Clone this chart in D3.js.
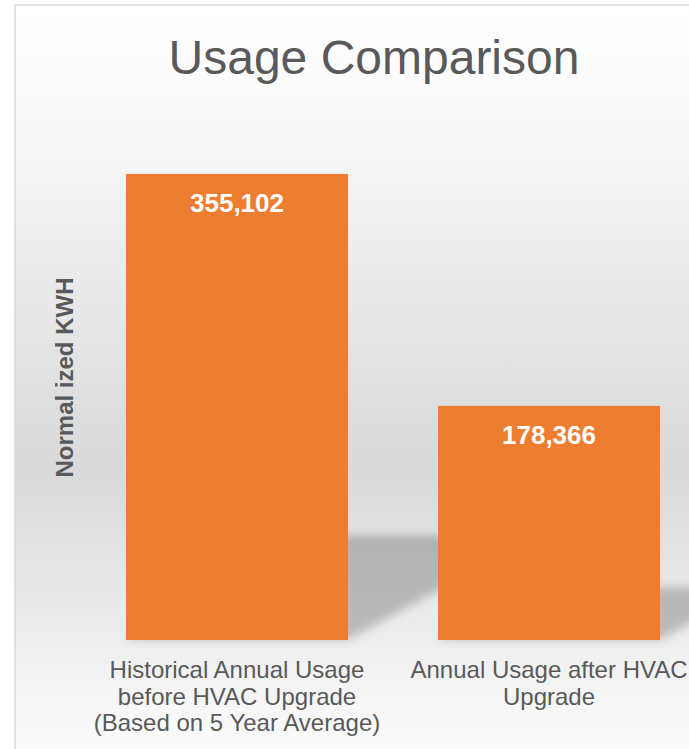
<!DOCTYPE html>
<html>
<head>
<meta charset="utf-8">
<script src="https://cdn.jsdelivr.net/npm/d3@7"></script>
<style>
  body { margin: 0; background: #fff; }
  text { font-family: "Liberation Sans", Arial, sans-serif; }
</style>
</head>
<body>
<svg id="chart" width="689" height="749"></svg>
<script>
var title = "Usage Comparison";
var yTitle = "Normal ized KWH";
var categories = [
    ["Historical Annual Usage", "before HVAC Upgrade", "(Based on 5 Year Average)"],
    ["Annual Usage after HVAC", "Upgrade"]
];
var usage = [355102, 178366];
var yDomain = [0, 400000];

var svg = d3.select("#chart");
var defs = svg.append("defs");

var grad = defs.append("linearGradient")
    .attr("id", "bg")
    .attr("x1", 0).attr("y1", 0).attr("x2", 0).attr("y2", 1);
grad.append("stop").attr("offset", "0%").attr("stop-color", "#ffffff");
grad.append("stop").attr("offset", "12%").attr("stop-color", "#fbfbfb");
grad.append("stop").attr("offset", "60%").attr("stop-color", "#d9d9d9");
grad.append("stop").attr("offset", "100%").attr("stop-color", "#ffffff");

defs.append("filter")
    .attr("id", "blur")
    .attr("x", "-20%").attr("y", "-20%").attr("width", "140%").attr("height", "140%")
    .append("feGaussianBlur").attr("stdDeviation", 5);

// chart area
svg.append("rect")
    .attr("x", 15).attr("y", 5)
    .attr("width", 700).attr("height", 770)
    .attr("fill", "url(#bg)")
    .attr("stroke", "#d9d9d9")
    .attr("stroke-width", 1.5);

var x = d3.scaleBand()
    .domain(d3.range(usage.length))
    .range([81, 705])
    .paddingInner(0.2885)
    .paddingOuter(0.1442);

var y = d3.scaleLinear()
    .domain(yDomain)
    .range([640, 115]);

// perspective shadows, thrown up and to the right
var shadowRise = 0.225, shadowLean = 0.41;
svg.append("g")
    .attr("filter", "url(#blur)")
    .selectAll("polygon")
    .data(usage)
    .join("polygon")
    .attr("fill", "#000")
    .attr("fill-opacity", 0.21)
    .attr("points", function(d, i) {
        var x0 = x(i), x1 = x(i) + x.bandwidth();
        var h = y(0) - y(d);
        var top = y(0) - h * shadowRise, dx = h * shadowLean;
        return [[x0, y(0)], [x1, y(0)], [x1 + dx, top], [x0 + dx, top]].join(" ");
    });

svg.append("g")
    .selectAll("rect")
    .data(usage)
    .join("rect")
    .attr("x", function(d, i) { return x(i); })
    .attr("y", function(d) { return y(d); })
    .attr("width", x.bandwidth())
    .attr("height", function(d) { return y(0) - y(d); })
    .attr("fill", "#ed7d31");

svg.append("g")
    .selectAll("text")
    .data(usage)
    .join("text")
    .attr("x", function(d, i) { return x(i) + x.bandwidth() / 2; })
    .attr("y", function(d) { return y(d) + 38; })
    .attr("text-anchor", "middle")
    .attr("font-size", 26)
    .attr("font-weight", "bold")
    .attr("fill", "#fff")
    .text(function(d) { return d3.format(",")(d); });

// category axis, labels only
var xAxis = svg.append("g")
    .attr("transform", "translate(0," + y(0) + ")")
    .call(d3.axisBottom(x).tickSize(0).tickFormat(""));
xAxis.select(".domain").remove();
xAxis.selectAll(".tick text").remove();
xAxis.selectAll(".tick")
    .append("text")
    .attr("text-anchor", "middle")
    .attr("fill", "#595959")
    .attr("font-size", 24)
    .selectAll("tspan")
    .data(function(d) { return categories[d]; })
    .join("tspan")
    .attr("x", 0)
    .attr("y", function(d, j) { return 38 + j * 26.5; })
    .text(function(d) { return d; });

svg.append("text")
    .attr("transform", "translate(73," + ((y.range()[0] + y.range()[1]) / 2) + ") rotate(-90)")
    .attr("text-anchor", "middle")
    .attr("font-size", 24)
    .attr("font-weight", "bold")
    .attr("fill", "#595959")
    .text(yTitle);

svg.append("text")
    .attr("x", 374)
    .attr("y", 74)
    .attr("text-anchor", "middle")
    .attr("font-size", 48)
    .attr("fill", "#595959")
    .text(title);
</script>
</body>
</html>
